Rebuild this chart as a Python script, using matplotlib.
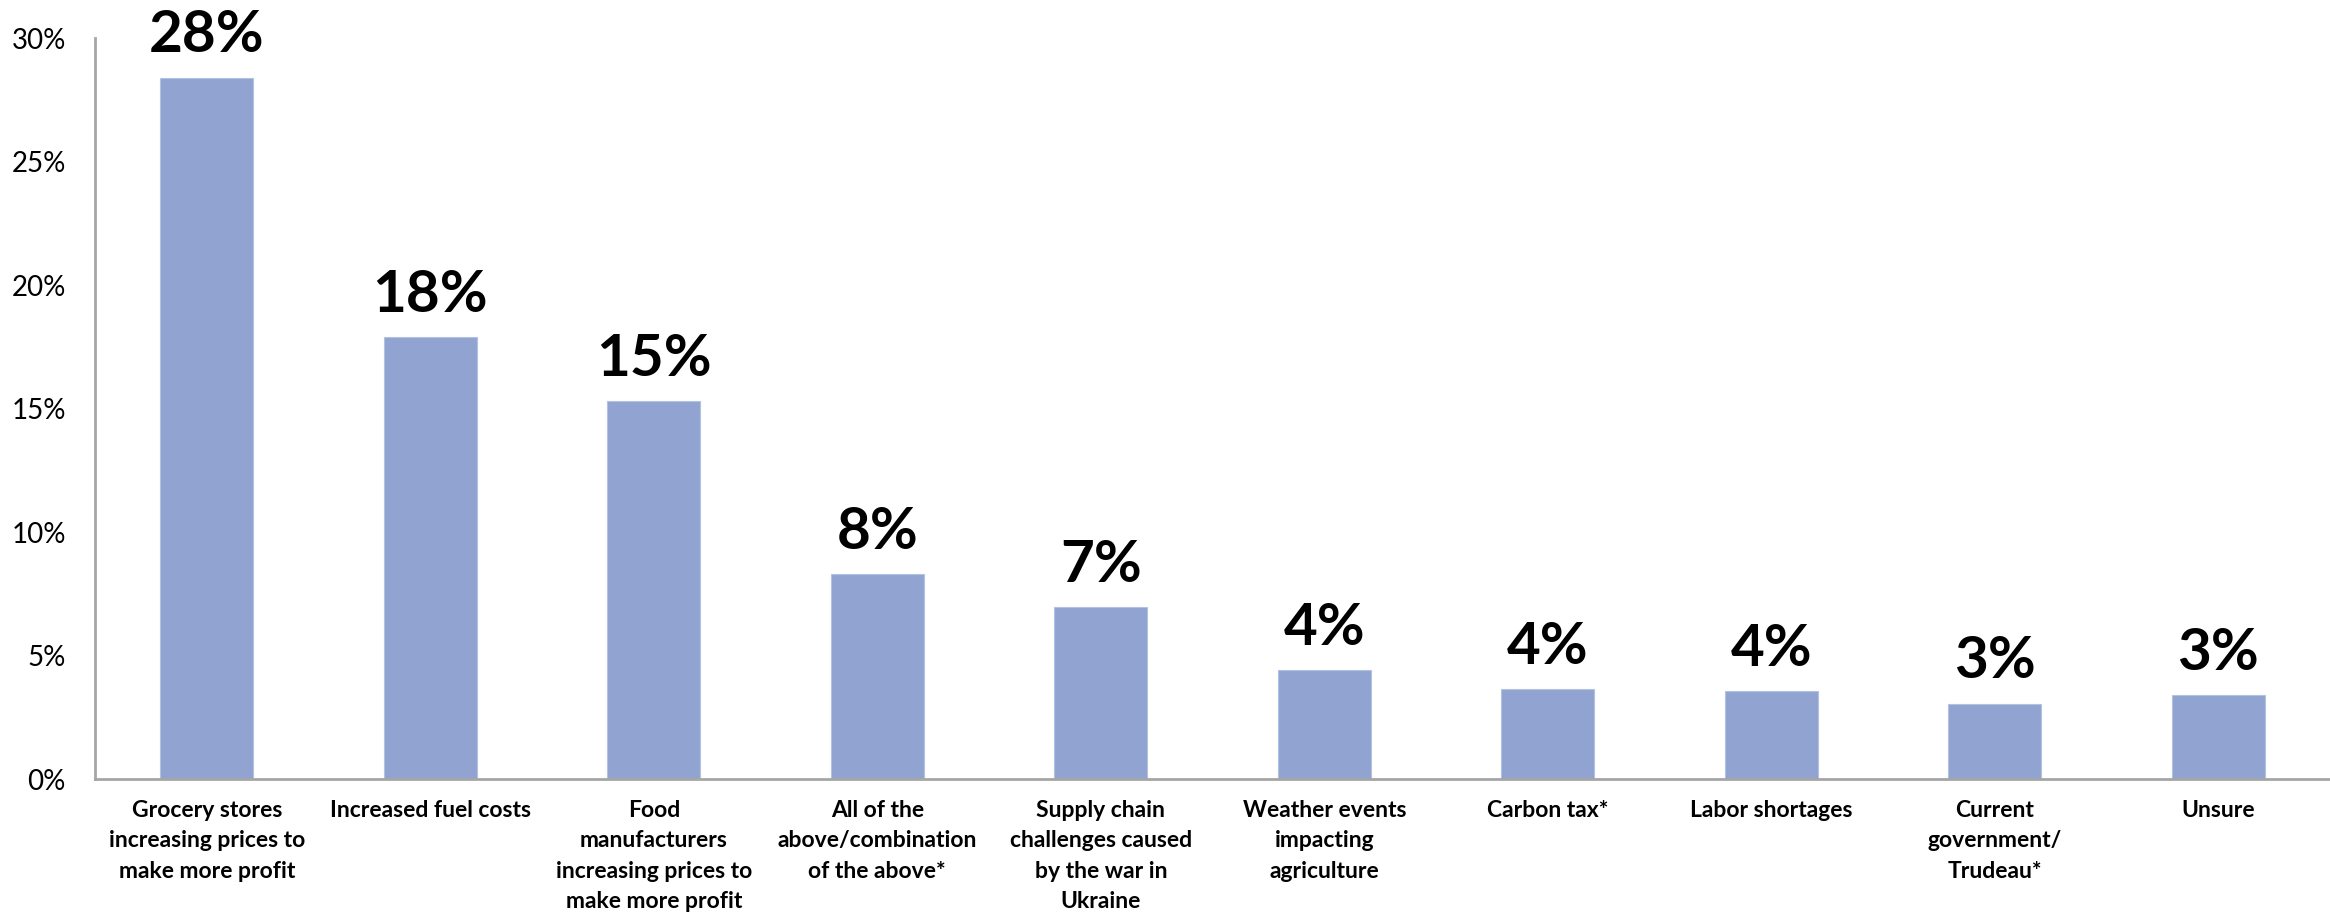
import matplotlib
matplotlib.use("Agg")
import matplotlib.pyplot as plt
from matplotlib.ticker import FuncFormatter

# datos
categorias = [
    "Grocery stores\nincreasing prices to\nmake more profit",
    "Increased fuel costs",
    "Food\nmanufacturers\nincreasing prices to\nmake more profit",
    "All of the\nabove/combination\nof the above*",
    "Supply chain\nchallenges caused\nby the war in\nUkraine",
    "Weather events\nimpacting\nagriculture",
    "Carbon tax*",
    "Labor shortages",
    "Current\ngovernment/\nTrudeau*",
    "Unsure",
]
valores = [28.4, 17.9, 15.3, 8.3, 6.95, 4.4, 3.65, 3.55, 3.05, 3.4]
etiquetas = ["28%", "18%", "15%", "8%", "7%", "4%", "4%", "4%", "3%", "3%"]
ticks_y = [0, 5, 10, 15, 20, 25, 30]

# Lato se parece bastante a Calibri en proporciones
fuente = ["Lato", "DejaVu Sans"]
color_barra = "#91A3D0"
color_eje = "#A6A6A6"

fig = plt.figure(figsize=(23.3, 9.23), dpi=100)
ax = fig.add_axes([0.0408, 0.156, 0.9592, 0.8028])

x = list(range(len(categorias)))
ax.bar(x, valores, width=0.415, color=color_barra,
       edgecolor="#B4C2E2", linewidth=0.8, zorder=2)

for xi, v, txt in zip(x, valores, etiquetas):
    ax.annotate(txt, (xi, v), xytext=(0, 11), textcoords="offset points",
                ha="center", va="bottom", fontsize=42, fontweight="bold",
                family=fuente, color="black", annotation_clip=False)

ax.set_xlim(-0.5, 9.5)
ax.set_ylim(0, 30)
ax.set_yticks(ticks_y)
ax.yaxis.set_major_formatter(FuncFormatter(lambda v, p: f"{int(v)}%"))
ax.set_xticks(x)
ax.set_xticklabels(categorias, fontsize=16.5, fontweight="bold", family=fuente,
                   linespacing=1.55, va="top")

for lab in ax.get_yticklabels():
    lab.set_family(fuente)
    lab.set_fontsize(20)

ax.tick_params(axis="x", length=0, pad=15)
ax.tick_params(axis="y", length=0, pad=21)

for lado in ["top", "right"]:
    ax.spines[lado].set_visible(False)
ax.spines["left"].set_color(color_eje)
ax.spines["bottom"].set_color(color_eje)
ax.spines["left"].set_linewidth(2)
ax.spines["bottom"].set_linewidth(2)

fig.savefig("out.png", dpi=100)
